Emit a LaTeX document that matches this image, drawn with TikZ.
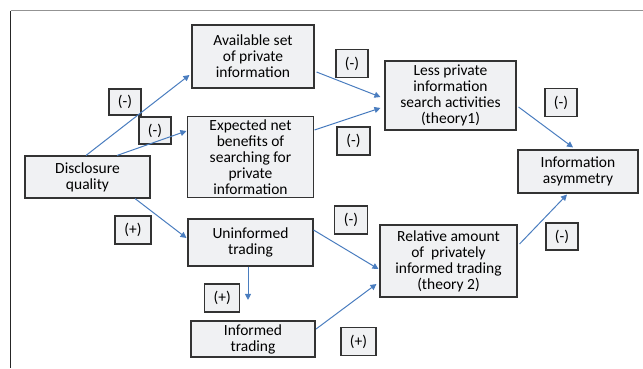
\documentclass[tikz,border=0pt]{standalone}
\usepackage{fontspec}
\setmainfont{Carlito}
\usetikzlibrary{calc,arrows.meta}
\definecolor{boxfill}{HTML}{F0F1F3}
\definecolor{boxdraw}{HTML}{333333}
\definecolor{arrblue}{HTML}{4A7DBF}
\tikzset{
  box/.style={draw=boxdraw, fill=boxfill, line width=1.1pt, inner sep=0pt, align=center,
    font=\fontsize{15.5}{16}\selectfont},
  sign/.style={draw=boxdraw, fill=boxfill, line width=1.1pt, inner sep=0pt, align=center,
    font=\fontsize{15.5}{16}\selectfont},
  arr/.style={draw=arrblue, line width=1pt, -{Triangle[width=6pt,length=6pt]}}
}
\begin{document}
\begin{tikzpicture}[x=1pt,y=-1pt]
\useasboundingbox (0,0) rectangle (643,368);
\draw[line width=1.2pt, color=gray!85] (10.5,10.5) -- (643,10.5);
\draw[line width=1.2pt, color=black!85] (10.5,10.5) -- (10.5,368);

\node[box, minimum width=122pt, minimum height=63pt] (avail) at (253,56.5) {Available set\\of private\\information};
\node[box, minimum width=126pt, minimum height=81pt] (expect) at (250.5,157) {Expected net\\benefits of\\searching for\\private\\information};
\node[box, minimum width=125pt, minimum height=42pt] (disc) at (87.5,177) {Disclosure\\quality};
\node[box, minimum width=131pt, minimum height=69pt] (less) at (450.5,95.5) {Less private\\information\\search activities\\(theory1)};
\node[box, minimum width=120pt, minimum height=43pt] (asym) at (578,171.5) {Information\\asymmetry};
\node[box, minimum width=125pt, minimum height=47pt] (unin) at (250.5,242.5) {Uninformed\\trading};
\node[box, minimum width=124pt, minimum height=36pt] (inf) at (253,339) {Informed\\trading};
\node[box, minimum width=137pt, minimum height=72pt] (rel) at (448.5,261) {Relative amount\\of~~privately\\informed trading\\(theory 2)};

\node[sign, minimum width=32pt, minimum height=26pt] (s1) at (125,102) {(-)};
\node[sign, minimum width=32pt, minimum height=27pt] (s2) at (155,130.5) {(-)};
\node[sign, minimum width=32pt, minimum height=27.5pt] (s3) at (352,63.5) {(-)};
\node[sign, minimum width=33pt, minimum height=28pt] (s4) at (353.5,141) {(-)};
\node[sign, minimum width=32pt, minimum height=28pt] (s5) at (561,102.5) {(-)};
\node[sign, minimum width=36pt, minimum height=28pt] (s6) at (133,230) {(+)};
\node[sign, minimum width=35pt, minimum height=28pt] (s7) at (222.3,298) {(+)};
\node[sign, minimum width=33pt, minimum height=28pt] (s8) at (351,220) {(-)};
\node[sign, minimum width=32pt, minimum height=27pt] (s9) at (562,236.5) {(-)};
\node[sign, minimum width=35pt, minimum height=28pt] (s10) at (358.5,341.7) {(+)};

\coordinate (infend) at ($(inf.north)+(-5,-20.5)$);

\draw[arr] ($(disc.north)+(-1.5,0)$) -- ($(avail.west)+(-2,18.5)$);
\draw[arr] ($(disc.north)+(29.5,0)$) -- ($(expect.west)+(-0.5,-26)$);
\draw[arr] ($(disc.south)+(47.5,0)$) -- ($(unin.west)+(-1,-4.5)$);
\draw[arr] ($(unin.south)+(-2.5,0)$) -- (infend);
\draw[arr] ($(avail.east)+(2,15.5)$) -- ($(less.west)+(-4,1.5)$);
\draw[arr] ($(expect.east)+(0.5,-27)$) -- ($(less.west)+(-4,12.5)$);
\draw[arr] ($(less.east)+(2,11.5)$) -- ($(asym.north)+(-5,-2)$);
\draw[arr] ($(unin.east)+(0,-12.5)$) -- ($(rel.west)+(-1,8)$);
\draw[arr] ($(inf.east)+(0.5,-10)$) -- ($(rel.west)+(-3,23)$);
\draw[arr] ($(rel.east)+(2,-17)$) -- ($(asym.south)+(-11,1)$);
\end{tikzpicture}
\end{document}
